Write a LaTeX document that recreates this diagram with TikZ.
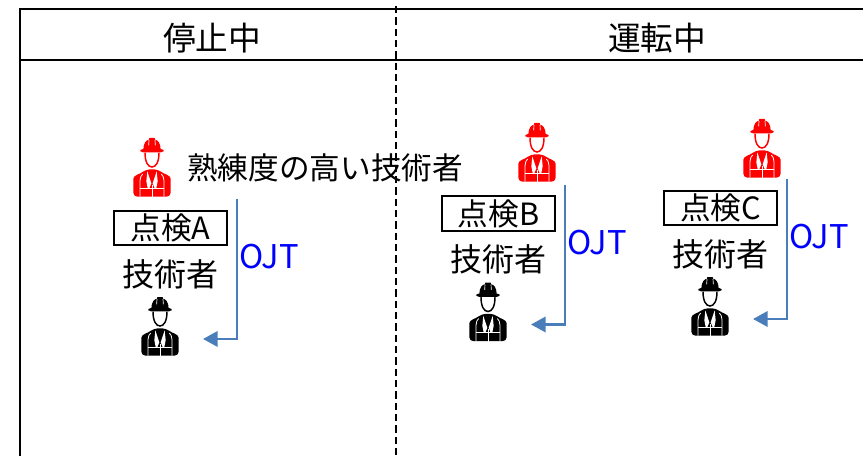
\documentclass[tikz,border=0pt]{standalone}
\usepackage{fontspec}
\setmainfont{Noto Sans CJK JP}
\usetikzlibrary{arrows.meta}
\tikzset{
    frameline/.style={line width=1.6pt},
    headtext/.style={font=\fontsize{24.5}{24.5}\selectfont},
    bodytext/.style={font=\fontsize{24}{24}\selectfont,inner sep=0pt},
    experttext/.style={font=\fontsize{23}{23}\selectfont,inner sep=0pt},
    taskbox/.style={draw,line width=1.4pt,minimum width=85pt,minimum height=26pt,inner sep=0pt,font=\fontsize{23}{23}\selectfont},
    ojtline/.style={draw=ojtblue,line width=1.9pt,-{Triangle[length=11pt,width=11.5pt]}},
    ojttext/.style={text=blue,font=\fontsize{24.5}{24.5}\selectfont,inner sep=0pt},
    worker/.pic={
        \begin{scope}[x=.25pt,y=-.25pt]
            % hat
            \fill[#1] (-26,34) .. controls (-26,14) and (-16,6) .. (-9,5) -- (-8,0) -- (8,0) -- (9,5)
                .. controls (16,6) and (26,14) .. (26,34) -- cycle;
            \fill[#1,rounded corners=2pt] (-35,33) rectangle (35,43);
            \draw[white,line width=.5pt] (-9,6) -- (-10,22) (9,6) -- (10,22);
            % face
            \draw[#1,line width=1.1pt] (-21,44) .. controls (-21,72) and (-12,87) .. (0,87)
                .. controls (12,87) and (21,72) .. (21,44);
            % body
            \fill[#1,rounded corners=3pt] (-56,176) -- (-56,134) .. controls (-56,112) and (-36,108) .. (-18,94)
                -- (18,94) .. controls (36,108) and (56,112) .. (56,134) -- (56,176) -- cycle;
            \fill[white] (-14,100) -- (-2,136) -- (-8,150) -- (-13,150) -- (-17,130) -- cycle;
            \fill[white] (14,100) -- (2,136) -- (8,150) -- (13,150) -- (17,130) -- cycle;
            \draw[white,line width=.6pt] (-36,176) -- (-36,128) .. controls (-36,118) and (-32,112) .. (-28,108);
            \draw[white,line width=.6pt] (36,176) -- (36,128) .. controls (36,118) and (32,112) .. (28,108);
            \draw[white,line width=.7pt] (-36,150) -- (36,150) (0,140) -- (0,180);
        \end{scope}
    }
}
\definecolor{ojtblue}{HTML}{4A7EBB}
\begin{document}
\begin{tikzpicture}[x=.75pt,y=-.75pt]
    \useasboundingbox (0,0) rectangle (863,456);
    \draw[frameline] (863,9) -- (20,9) -- (20,456);
    \draw[frameline] (20,60) -- (863,60);
    \draw[frameline,dash pattern=on 5.5pt off 3pt] (396,6) -- (396,456);
    \node[headtext] (stopped) at (212,38) {停止中};
    \node[headtext] (running) at (657,38) {運転中};
    \node[experttext] (expert) at (325,168) {熟練度の高い技術者};
    \foreach \t/\dx/\dy/\rx/\ry in {A/0/0/152/138,B/328/-14.5/537/123,C/550/-20/762/119}{
        \pic at (\rx,\ry) {worker=red};
        \pic at (160+\dx,297+\dy) {worker=black};
        \node[taskbox] (box\t) at (170.5+\dx,228+\dy) {点検\t};
        \node[bodytext] (tech\t) at (170+\dx,274+\dy) {技術者};
        \node[ojttext] (ojt\t) at (269+\dx,257+\dy) {OJT};
        \coordinate (start\t) at (237+\dx,199+\dy);
        \coordinate (end\t) at (203+\dx,339+\dy);
        \draw[ojtline] (start\t) |- (end\t);
    }
\end{tikzpicture}
\end{document}
